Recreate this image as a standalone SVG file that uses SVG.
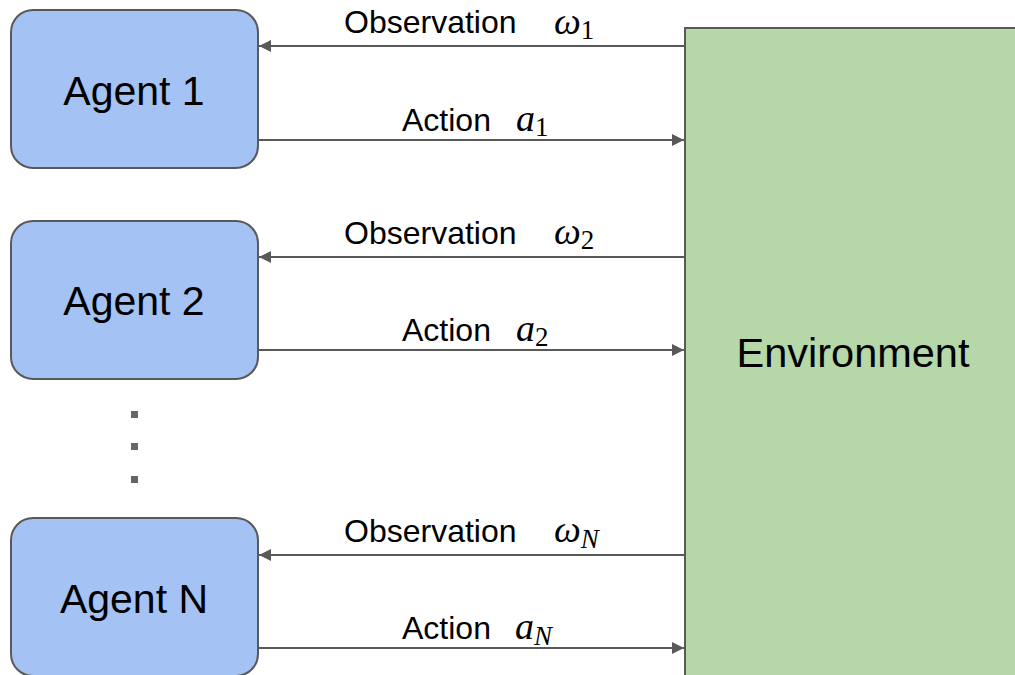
<svg xmlns="http://www.w3.org/2000/svg" width="1015" height="675" viewBox="0 0 1015 675">
<defs>
<style>
.agent{fill:#a4c2f4;stroke:#595959;stroke-width:2}
.env{fill:#b6d7a8;stroke:#595959;stroke-width:2}
.big{font-family:"Liberation Sans",Arial,sans-serif;font-size:41px;fill:#000;text-anchor:middle}
.lbl{font-family:"Liberation Sans",Arial,sans-serif;font-size:32px;fill:#000}
.math{font-family:"Liberation Serif","Times New Roman",serif;font-style:italic;font-size:38px;fill:#000}
.sub{font-style:normal;font-size:27px}
.subi{font-style:italic;font-size:27px}
.conn{stroke:#595959;stroke-width:2;fill:none}
.dot{fill:#666}
</style>
<marker id="ah" viewBox="0 0 10 10" refX="10" refY="5" markerWidth="6" markerHeight="6" orient="auto" markerUnits="strokeWidth">
<path d="M0,0 L10,5 L0,10 z" fill="#595959"/>
</marker>
</defs>
<rect width="1015" height="675" fill="#fff"/>
<g id="environment">
<rect class="env" x="685" y="28" width="340" height="660"/>
<text class="big" x="853" y="367" style="font-size:41.5px">Environment</text>
</g>
<g id="agent1">
<rect class="agent" x="11" y="10" width="247" height="158" rx="22"/>
<text class="big" x="134" y="105">Agent 1</text>
</g>
<g id="agent2">
<rect class="agent" x="11" y="221" width="247" height="158" rx="22"/>
<text class="big" x="134" y="315">Agent 2</text>
</g>
<g id="agentN">
<rect class="agent" x="11" y="518" width="247" height="158" rx="22"/>
<text class="big" x="134" y="613">Agent N</text>
</g>
<g id="ellipsis">
<rect class="dot" x="131" y="411" width="7" height="7"/>
<rect class="dot" x="131" y="443" width="7" height="7"/>
<rect class="dot" x="131" y="476" width="7" height="7"/>
</g>
<g id="connectors">
<line class="conn" x1="685" y1="46" x2="259" y2="46" marker-end="url(#ah)"/>
<line class="conn" x1="258" y1="140" x2="684" y2="140" marker-end="url(#ah)"/>
<line class="conn" x1="685" y1="257" x2="259" y2="257" marker-end="url(#ah)"/>
<line class="conn" x1="258" y1="350" x2="684" y2="350" marker-end="url(#ah)"/>
<line class="conn" x1="685" y1="555" x2="259" y2="555" marker-end="url(#ah)"/>
<line class="conn" x1="258" y1="648" x2="684" y2="648" marker-end="url(#ah)"/>
</g>
<g id="labels">
<text class="lbl" x="344" y="33">Observation</text>
<text class="math" x="554" y="34">ω<tspan class="sub" dy="5">1</tspan></text>
<text class="lbl" x="402" y="131">Action</text>
<text class="math" x="516" y="131">a<tspan class="sub" dy="5">1</tspan></text>
<text class="lbl" x="344" y="244">Observation</text>
<text class="math" x="554" y="244">ω<tspan class="sub" dy="5">2</tspan></text>
<text class="lbl" x="402" y="341">Action</text>
<text class="math" x="516" y="341">a<tspan class="sub" dy="5">2</tspan></text>
<text class="lbl" x="344" y="542">Observation</text>
<text class="math" x="554" y="542">ω<tspan class="subi" dy="6">N</tspan></text>
<text class="lbl" x="402" y="639">Action</text>
<text class="math" x="515" y="639">a<tspan class="subi" dy="6">N</tspan></text>
</g>
</svg>
